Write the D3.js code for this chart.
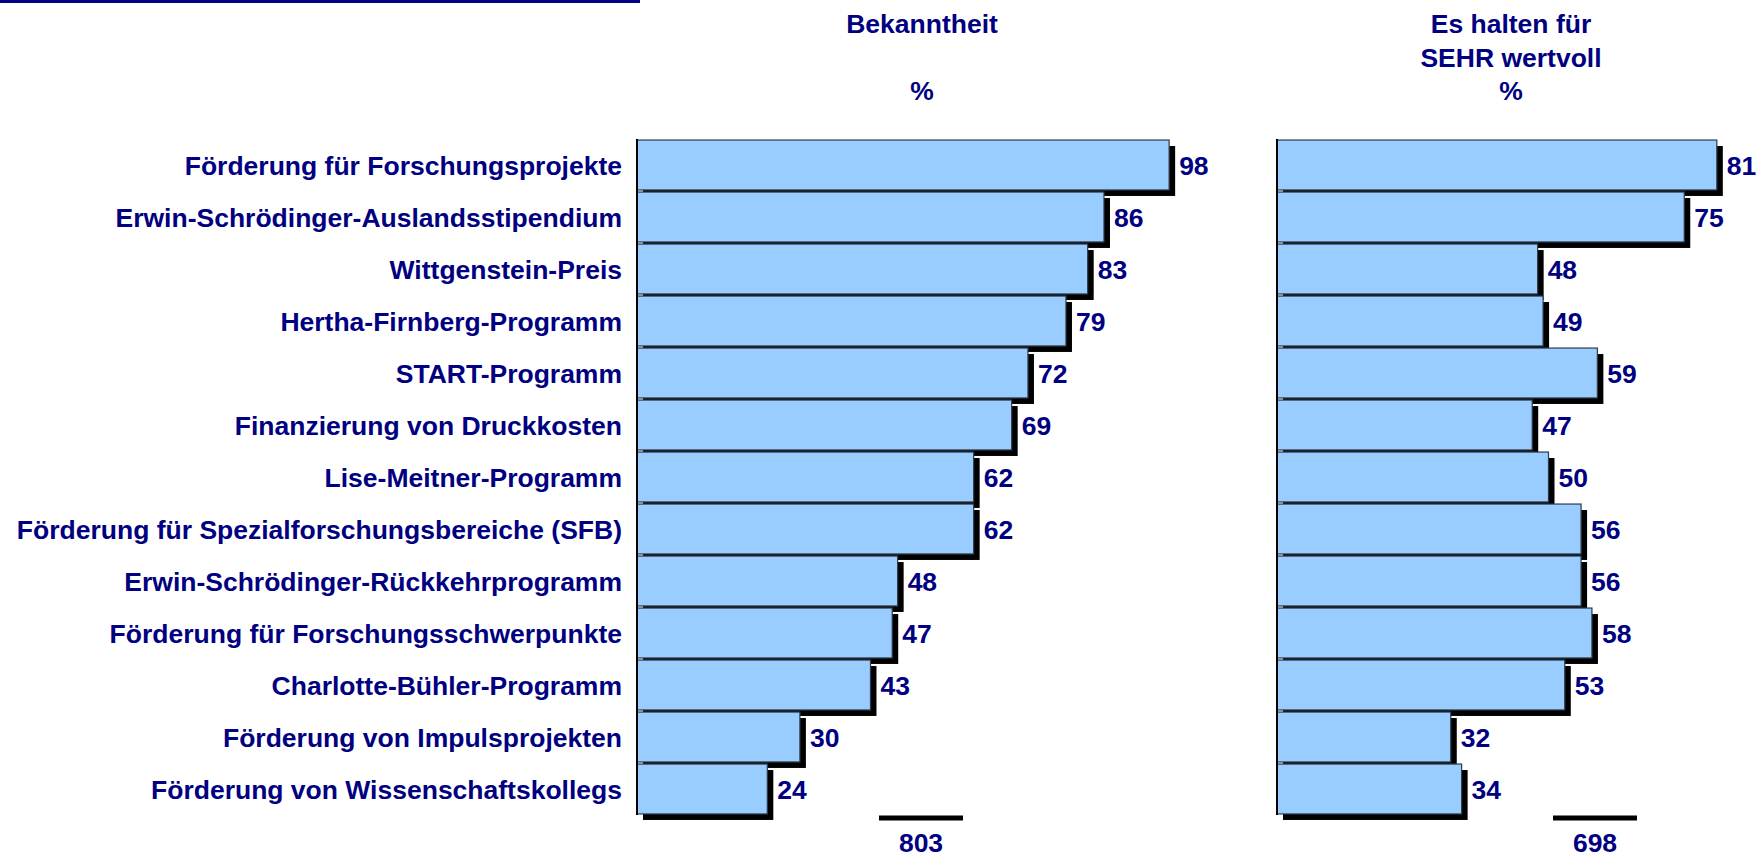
<!DOCTYPE html>
<html>
<head>
<meta charset="utf-8">
<script src="https://cdn.jsdelivr.net/npm/d3@7"></script>
<style>
  html, body { margin: 0; padding: 0; background: #ffffff; }
  #chart { width: 1757px; height: 860px; }
  text { font-family: "Liberation Sans", Arial, Helvetica, sans-serif; font-weight: bold; }
</style>
</head>
<body>
<div id="chart"></div>
<script>
// Programme names (rows, top to bottom)
var categories = [
  "Förderung für Forschungsprojekte",
  "Erwin-Schrödinger-Auslandsstipendium",
  "Wittgenstein-Preis",
  "Hertha-Firnberg-Programm",
  "START-Programm",
  "Finanzierung von Druckkosten",
  "Lise-Meitner-Programm",
  "Förderung für Spezialforschungsbereiche (SFB)",
  "Erwin-Schrödinger-Rückkehrprogramm",
  "Förderung für Forschungsschwerpunkte",
  "Charlotte-Bühler-Programm",
  "Förderung von Impulsprojekten",
  "Förderung von Wissenschaftskollegs"
];

// Bekanntheit in %
var bekanntheit = [98, 86, 83, 79, 72, 69, 62, 62, 48, 47, 43, 30, 24];

// Es halten für SEHR wertvoll in %
var sehrWertvoll = [81, 75, 48, 49, 59, 47, 50, 56, 56, 58, 53, 32, 34];

// Panel titles and base numbers
var titleLeft = ["Bekanntheit", "", "%"];
var titleRight = ["Es halten für", "SEHR wertvoll", "%"];
var baseLeft = 803;
var baseRight = 698;

// Style
var navy = "#000080";
var barFill = "#99ccff";
var barStroke = "#2e3b4a";
var shadowOffset = 6;
var fontSize = 26.5;

var width = 1757;
var height = 860;

var svg = d3.select("#chart")
  .append("svg")
  .attr("width", width)
  .attr("height", height);

// thin navy rule at the very top
svg.append("line")
  .attr("x1", 0).attr("x2", 640)
  .attr("y1", 1.5).attr("y2", 1.5)
  .attr("stroke", navy)
  .attr("stroke-width", 3);

// shared row scale
var y = d3.scaleBand()
  .domain(categories)
  .range([139, 815])
  .paddingInner(0.04)
  .paddingOuter(0.02);

// category labels
svg.append("g")
  .selectAll("text")
  .data(categories)
  .enter().append("text")
  .attr("x", 622)
  .attr("y", function(d){ return y(d) + y.bandwidth() / 2; })
  .attr("dy", "0.36em")
  .attr("text-anchor", "end")
  .attr("font-size", fontSize)
  .attr("fill", navy)
  .text(function(d){ return d; });

// draws one bar panel
var drawPanel = function(values, left, titleLines, titleX, base, baseX){
  var x = d3.scaleLinear()
    .domain([0, 100])
    .range([left, left + 543]);

  var data = values.map(function(v, i){ return {cat: categories[i], value: v}; });
  var g = svg.append("g");

  // shadows first so the gaps between bars show black
  g.selectAll("rect.shadow")
    .data(data)
    .enter().append("rect")
    .attr("class", "shadow")
    .attr("x", x(0) + shadowOffset)
    .attr("y", function(d){ return y(d.cat) + shadowOffset; })
    .attr("width", function(d){ return x(d.value) - x(0); })
    .attr("height", y.bandwidth())
    .attr("fill", "#000000");

  g.selectAll("rect.bar")
    .data(data)
    .enter().append("rect")
    .attr("class", "bar")
    .attr("x", x(0))
    .attr("y", function(d){ return y(d.cat); })
    .attr("width", function(d){ return x(d.value) - x(0); })
    .attr("height", y.bandwidth())
    .attr("fill", barFill)
    .attr("stroke", barStroke)
    .attr("stroke-width", 1.2);

  // left axis line
  g.append("line")
    .attr("x1", x(0)).attr("x2", x(0))
    .attr("y1", y.range()[0]).attr("y2", y.range()[1])
    .attr("stroke", "#000000")
    .attr("stroke-width", 2);

  // value labels
  g.selectAll("text.value")
    .data(data)
    .enter().append("text")
    .attr("class", "value")
    .attr("x", function(d){ return x(d.value) + 10; })
    .attr("y", function(d){ return y(d.cat) + y.bandwidth() / 2; })
    .attr("dy", "0.36em")
    .attr("font-size", fontSize)
    .attr("fill", navy)
    .text(function(d){ return d.value; });

  // title
  g.selectAll("text.title")
    .data(titleLines)
    .enter().append("text")
    .attr("class", "title")
    .attr("x", titleX)
    .attr("y", function(d, i){ return 33 + i * 33.5; })
    .attr("text-anchor", "middle")
    .attr("font-size", fontSize)
    .attr("fill", navy)
    .text(function(d){ return d; });

  // base line and total
  g.append("line")
    .attr("x1", baseX - 42).attr("x2", baseX + 42)
    .attr("y1", 818).attr("y2", 818)
    .attr("stroke", "#000000")
    .attr("stroke-width", 5);

  g.append("text")
    .attr("x", baseX)
    .attr("y", 852)
    .attr("text-anchor", "middle")
    .attr("font-size", fontSize)
    .attr("fill", navy)
    .text(base);
};

drawPanel(bekanntheit, 637, titleLeft, 922, baseLeft, 921);
drawPanel(sehrWertvoll, 1277, titleRight, 1511, baseRight, 1595);
</script>
</body>
</html>
